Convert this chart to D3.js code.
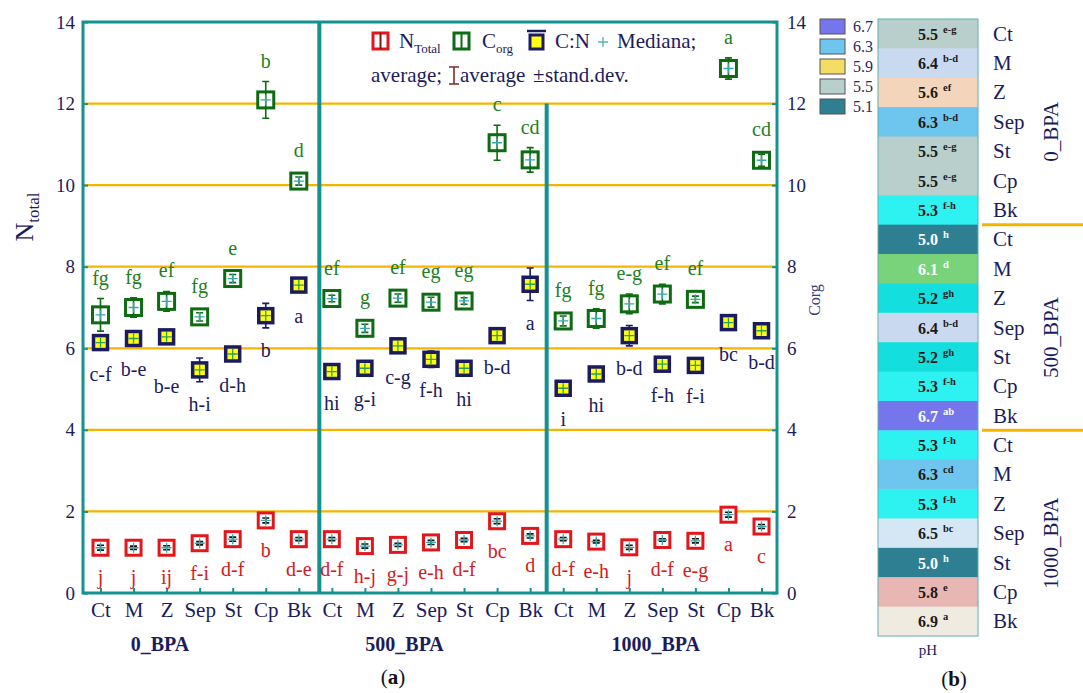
<!DOCTYPE html>
<html><head><meta charset="utf-8">
<script src="https://cdn.jsdelivr.net/npm/d3@7"></script>
<style>
html,body{margin:0;padding:0;background:#fff;}
svg{display:block;}
svg text{font-family:"Liberation Serif","DejaVu Serif",serif;}
</style></head><body>
<svg id="chart" width="1083" height="693"></svg>
<script>
// ---- data ----
const groups = ["0_BPA", "500_BPA", "1000_BPA"];
const sites = ["Ct", "M", "Z", "Sep", "St", "Cp", "Bk"];
const yTicks = [0, 2, 4, 6, 8, 10, 12, 14];

const nTotalMean = [1.11,1.11,1.11,1.22,1.32,1.78,1.32, 1.32,1.15,1.18,1.24,1.30,1.76,1.40, 1.32,1.26,1.12,1.30,1.28,1.92,1.63];
const nTotalSd   = [0.06,0.04,0.05,0.04,0.05,0.06,0.04, 0.04,0.05,0.04,0.05,0.04,0.06,0.05, 0.04,0.03,0.05,0.03,0.05,0.06,0.05];
const nTotalLetters = ["j","j","ij","f-i","d-f","b","d-e", "d-f","h-j","g-j","e-h","d-f","bc","d", "d-f","e-h","j","d-f","e-g","a","c"];

const corgMean = [6.82,7.00,7.15,6.77,7.71,12.09,10.10, 7.22,6.49,7.23,7.13,7.16,11.04,10.62, 6.67,6.73,7.09,7.33,7.20,12.86,10.61];
const corgSd   = [0.40,0.24,0.24,0.10,0.10,0.45,0.10, 0.08,0.10,0.10,0.12,0.08,0.43,0.30, 0.12,0.24,0.24,0.24,0.08,0.26,0.15];
const corgLetters = ["fg","fg","ef","fg","e","b","d", "ef","g","ef","eg","eg","c","cd", "fg","fg","e-g","ef","ef","a","cd"];

const cnMean = [6.14,6.24,6.28,5.47,5.86,6.80,7.55, 5.43,5.51,6.06,5.73,5.51,6.31,7.57, 5.02,5.37,6.31,5.61,5.58,6.63,6.43];
const cnSd   = [0.05,0.04,0.04,0.29,0.05,0.30,0.12, 0.04,0.04,0.05,0.20,0.04,0.05,0.40, 0.04,0.04,0.25,0.04,0.04,0.05,0.05];
const cnLetters = ["c-f","b-e","b-e","h-i","d-h","b","a", "hi","g-i","c-g","f-h","hi","b-d","a", "i","hi","b-d","f-h","f-i","bc","b-d"];

const phValues  = [5.5,6.4,5.6,6.3,5.5,5.5,5.3, 5.0,6.1,5.2,6.4,5.2,5.3,6.7, 5.3,6.3,5.3,6.5,5.0,5.8,6.9];
const phLetters = ["e-g","b-d","ef","b-d","e-g","e-g","f-h", "h","d","gh","b-d","gh","f-h","ab", "f-h","cd","f-h","bc","h","e","a"];
const phLegend  = [6.7, 6.3, 5.9, 5.5, 5.1];
const phLightText = [5.0, 6.1, 6.7];

// ---- style ----
const TEAL = "#13938f", ORANGE = "#f5b400", NAVY = "#1c1c5c";
const phColor = d3.scaleOrdinal()
  .domain([5.0, 5.1, 5.2, 5.3, 5.5, 5.6, 5.8, 5.9, 6.1, 6.3, 6.4, 6.5, 6.7, 6.9])
  .range(["#2f7f93","#2f7f93","#14dede","#2ef2f2","#b8cfcb","#f2d5bb","#e8b7b3","#f5dc64",
          "#78d37a","#6ec5ee","#c8d9f0","#d5e6f4","#7575ec","#efebe1"]);

const rows = [];
groups.forEach((g, gi) => sites.forEach((s, si) => rows.push({group: g, gi, si, site: s, i: gi * sites.length + si})));

const svg = d3.select("#chart");

// ---- panel (a) scales ----
const plotL = 83, plotR = 777;
const x = d3.scalePoint().domain(d3.range(rows.length)).range([100.5, 761.5]);
const y = d3.scaleLinear().domain([0, 14]).range([593, 22]);
const step = x.step();

// grid lines
svg.append("g").selectAll("line").data(yTicks.filter(v => v > 0 && v < 14)).join("line")
  .attr("x1", plotL).attr("x2", plotR).attr("y1", d => y(d)).attr("y2", d => y(d))
  .attr("stroke", ORANGE).attr("stroke-width", 2.2);

// axes
function styleAxis(g, size) {
  g.select(".domain").remove();
  g.attr("font-family", null).attr("font-size", null);
  g.selectAll(".tick line").attr("stroke", TEAL).attr("stroke-width", 2);
  g.selectAll(".tick text").attr("fill", NAVY).attr("font-size", size);
}
svg.append("g").attr("transform", `translate(0,${y(0)})`)
  .call(d3.axisBottom(x).tickFormat(i => rows[i].site).tickSize(-5).tickPadding(9))
  .call(g => styleAxis(g, 21));
svg.append("g").attr("transform", `translate(${plotL},0)`)
  .call(d3.axisLeft(y).tickValues(yTicks).tickSize(-5).tickPadding(8))
  .call(g => styleAxis(g, 19));
svg.append("g").attr("transform", `translate(${plotR},0)`)
  .call(d3.axisRight(y).tickValues(yTicks).tickSize(-5).tickPadding(10))
  .call(g => styleAxis(g, 19));

// frame
svg.append("rect").attr("x", plotL).attr("y", y(14)).attr("width", plotR - plotL).attr("height", y(0) - y(14))
  .attr("fill", "none").attr("stroke", TEAL).attr("stroke-width", 3);

// group separators (the second one stops below the legend)
const sepTop = [14, 12];
[1, 2].forEach((k, j) => {
  const sx = x(k * sites.length - 1) + step / 2 + (j === 0 ? 4 : 0);
  svg.append("line").attr("x1", sx).attr("x2", sx).attr("y1", y(sepTop[j])).attr("y2", y(0))
    .attr("stroke", TEAL).attr("stroke-width", 4);
});

// group names under the axis
const groupLabelAt = [1.8, 9.2, 16.8];
const xPos = d3.scaleLinear().domain([0, rows.length - 1]).range(x.range());
groups.forEach((g, gi) => {
  svg.append("text").attr("x", xPos(groupLabelAt[gi])).attr("y", 651).attr("text-anchor", "middle")
    .attr("font-size", 20).attr("font-weight", "bold").attr("fill", NAVY).text(g);
});

// ---- series markers ----
const series = [
  {mean: nTotalMean, sd: nTotalSd, letters: nTotalLetters, stroke: "#e3161b", fill: "#fff", bar: "#111",
   text: "#d7191c", size: 15, sw: 3, barFirst: false, below: true},
  {mean: cnMean, sd: cnSd, letters: cnLetters, stroke: "#1b1b60", fill: "#ffff14", bar: "#1b1b60",
   text: NAVY, size: 14, sw: 3.5, barFirst: true, below: true},
  {mean: corgMean, sd: corgSd, letters: corgLetters, stroke: "#0d6b12", fill: "#fff", bar: "#0d6b12",
   text: "#22801e", size: 16, sw: 3, barFirst: false, below: false}
];

series.forEach((s, k) => {
  const g = svg.append("g").selectAll("g").data(rows).join("g")
    .attr("transform", d => `translate(${x(d.i)},${y(s.mean[d.i])})`);
  const drawBar = sel => {
    sel.append("path")
      .attr("d", d => {
        const t = y(s.mean[d.i] + s.sd[d.i]) - y(s.mean[d.i]);
        const b = y(s.mean[d.i] - s.sd[d.i]) - y(s.mean[d.i]);
        return `M0,${t}V${b}M-3.5,${t}H3.5M-3.5,${b}H3.5`;
      })
      .attr("stroke", s.bar).attr("stroke-width", 1.6).attr("fill", "none");
  };
  if (s.barFirst) drawBar(g);
  g.append("rect").attr("x", -s.size / 2).attr("y", -s.size / 2).attr("width", s.size).attr("height", s.size)
    .attr("fill", s.fill).attr("stroke", s.stroke).attr("stroke-width", s.sw);
  if (!s.barFirst) drawBar(g);
  g.append("path").attr("d", "M-5,0H5M0,-5V5")
    .attr("stroke", k === 1 ? "#2f9e55" : "#3aa6a6").attr("stroke-width", 1.3);

  // significance letters; in the first group the Z label of C:N sits one line lower
  svg.append("g").selectAll("text").data(rows).join("text")
    .attr("x", d => x(d.i))
    .attr("y", d => {
      const m = s.mean[d.i], sd = s.sd[d.i];
      if (s.below) {
        const lowest = Math.max(y(m) + s.size / 2 + 2, y(m - sd));
        const extra = (k === 1 && d.gi === 0 && d.site === "Z") ? 18 : 0;
        return lowest + (k === 0 ? 27 : 29) + extra;
      }
      return Math.min(y(m) - s.size / 2 - 2, y(m + sd)) - 14;
    })
    .attr("text-anchor", "middle").attr("font-size", 20).attr("fill", s.text)
    .text(d => s.letters[d.i]);
});

// ---- legend (a) ----
const lg = svg.append("g").attr("fill", NAVY).attr("font-size", 21);
function boxIcon(x0, color, inner) {
  lg.append("rect").attr("x", x0).attr("y", 33).attr("width", 15).attr("height", 16)
    .attr("fill", "#fff").attr("stroke", color).attr("stroke-width", 3);
  lg.append("line").attr("x1", x0 + 7.5).attr("x2", x0 + 7.5).attr("y1", 33).attr("y2", 49)
    .attr("stroke", inner).attr("stroke-width", 2);
}
boxIcon(373, "#e3161b", "#7a1a1a");
lg.append("text").attr("x", 399).attr("y", 48).call(t => {
  t.append("tspan").text("N");
  t.append("tspan").attr("font-size", 13).attr("dy", 5).text("Total");
});
boxIcon(454, "#0d6b12", "#0d6b12");
lg.append("text").attr("x", 482).attr("y", 48).call(t => {
  t.append("tspan").text("C");
  t.append("tspan").attr("font-size", 13).attr("dy", 5).text("org");
});
lg.append("rect").attr("x", 530).attr("y", 35).attr("width", 13).attr("height", 14)
  .attr("fill", "#ffff14").attr("stroke", "#1b1b60").attr("stroke-width", 3);
lg.append("line").attr("x1", 527).attr("x2", 546).attr("y1", 31).attr("y2", 31)
  .attr("stroke", "#1b1b60").attr("stroke-width", 2.5);
lg.append("text").attr("x", 555).attr("y", 48).text("C:N");
lg.append("path").attr("d", "M598,42H608M603,37V47").attr("stroke", "#5ab4b4").attr("stroke-width", 1.4);
lg.append("text").attr("x", 617).attr("y", 48).text("Mediana;");
lg.append("text").attr("x", 371).attr("y", 82).text("average;");
lg.append("path").attr("d", "M454,67V84M449,67H459M449,84H459").attr("stroke", "#7b2b2b").attr("stroke-width", 1.6).attr("fill", "none");
lg.append("text").attr("x", 460).attr("y", 82).text("average");
lg.append("text").attr("x", 533).attr("y", 82).text("±");
lg.append("text").attr("x", 545).attr("y", 82).text("stand.dev.");

// axis titles
svg.append("text").attr("transform", "translate(33,217) rotate(-90)").attr("text-anchor", "middle")
  .attr("fill", NAVY).attr("font-size", 26).call(t => {
    t.append("tspan").text("N");
    t.append("tspan").attr("font-size", 17).attr("dy", 6).text("total");
  });
svg.append("text").attr("transform", "translate(820,300) rotate(-90)").attr("text-anchor", "middle")
  .attr("fill", "#3b3b78").attr("font-size", 16).text("Corg");

svg.append("text").attr("x", 393).attr("y", 684).attr("text-anchor", "middle").attr("font-size", 21)
  .attr("fill", "#111").call(t => {
    t.append("tspan").text("(");
    t.append("tspan").attr("font-weight", "bold").text("a");
    t.append("tspan").text(")");
  });

// ---- panel (b): pH column ----
const cellX = 878, cellW = 100;
const ry = d3.scaleBand().domain(d3.range(rows.length)).range([19, 636]);
const cells = svg.append("g").selectAll("g").data(rows).join("g");
cells.append("rect").attr("x", cellX).attr("y", d => ry(d.i)).attr("width", cellW).attr("height", ry.bandwidth() + 0.5)
  .attr("fill", d => phColor(phValues[d.i]));
cells.append("text").attr("x", cellX + cellW / 2).attr("y", d => ry(d.i) + ry.bandwidth() / 2 + 6)
  .attr("text-anchor", "middle").attr("font-size", 16).attr("font-weight", "bold")
  .attr("fill", d => phLightText.includes(phValues[d.i]) ? "#fff" : "#1a1a1a")
  .text(d => d3.format(".1f")(phValues[d.i]));
cells.append("text").attr("x", cellX + cellW / 2 + 15).attr("y", d => ry(d.i) + ry.bandwidth() / 2 - 1)
  .attr("font-size", 10.5).attr("font-weight", "bold")
  .attr("fill", d => phLightText.includes(phValues[d.i]) ? "#fff" : "#1a1a1a")
  .text(d => phLetters[d.i]);
svg.append("rect").attr("x", cellX).attr("y", ry.range()[0]).attr("width", cellW)
  .attr("height", ry.range()[1] - ry.range()[0]).attr("fill", "none").attr("stroke", "#5fb0b0").attr("stroke-width", 1);

// site names and group names
svg.append("g").selectAll("text").data(rows).join("text")
  .attr("x", 993).attr("y", d => ry(d.i) + ry.bandwidth() / 2 + 7)
  .attr("font-size", 21).attr("fill", NAVY).text(d => d.site);
groups.forEach((g, gi) => {
  const cy = ry(gi * sites.length + 3) + ry.bandwidth() / 2 + 10;
  svg.append("text").attr("transform", `translate(1058,${cy}) rotate(-90)`).attr("text-anchor", "middle")
    .attr("font-size", 21).attr("fill", NAVY).text(g);
  if (gi > 0) {
    const by = ry(gi * sites.length);
    svg.append("line").attr("x1", 982).attr("x2", 1083).attr("y1", by).attr("y2", by)
      .attr("stroke", ORANGE).attr("stroke-width", 3);
  }
});

// pH legend
const pl = svg.append("g").selectAll("g").data(phLegend).join("g")
  .attr("transform", (d, k) => `translate(820,${19 + k * 20})`);
pl.append("rect").attr("width", 25).attr("height", 15).attr("fill", d => phColor(d))
  .attr("stroke", "#555").attr("stroke-width", 1);
pl.append("text").attr("x", 33).attr("y", 13).attr("font-size", 16).attr("fill", "#2a2a5a")
  .text(d => d3.format(".1f")(d));

svg.append("text").attr("x", 928).attr("y", 655).attr("text-anchor", "middle").attr("font-size", 15)
  .attr("fill", NAVY).text("pH");
svg.append("text").attr("x", 954).attr("y", 686).attr("text-anchor", "middle").attr("font-size", 21)
  .attr("fill", "#111").call(t => {
    t.append("tspan").text("(");
    t.append("tspan").attr("font-weight", "bold").text("b");
    t.append("tspan").text(")");
  });
</script>
</body></html>
